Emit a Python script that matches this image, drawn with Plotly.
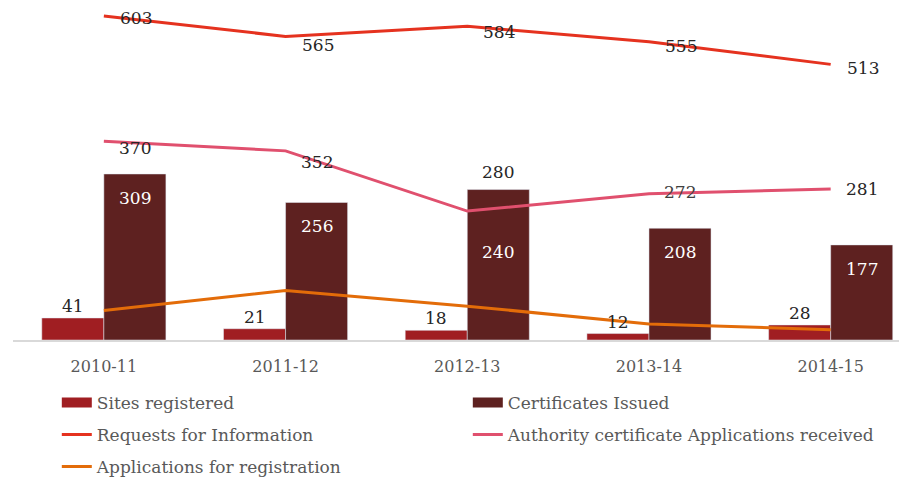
import plotly.graph_objects as go

years = ["2010-11", "2011-12", "2012-13", "2013-14", "2014-15"]
sites_registered = [41, 21, 18, 12, 28]
certificates_issued = [309, 256, 280, 208, 177]
requests_info = [603, 565, 584, 555, 513]
authority_apps = [370, 352, 240, 272, 281]
applications_reg = [55, 92, 63, 30, 19]

FONT = "DejaVu Serif"
C_SITES = "#A01E22"
C_CERT = "#5E2120"
C_REQ = "#E5321F"
C_AUTH = "#E0506E"
C_APPS = "#E36C09"

fig = go.Figure()
fig.add_trace(go.Bar(x=years, y=sites_registered, name="Sites registered",
                     marker_color=C_SITES, showlegend=False))
fig.add_trace(go.Bar(x=years, y=certificates_issued, name="Certificates Issued",
                     marker_color=C_CERT, showlegend=False))
# legend entries for the bars drawn as wide rectangles
fig.add_trace(go.Scatter(x=[None], y=[None], name="Sites registered", mode="lines",
                         line=dict(color=C_SITES, width=10), legend="legend"))
fig.add_trace(go.Scatter(x=[None], y=[None], name="Certificates Issued", mode="lines",
                         line=dict(color=C_CERT, width=10), legend="legend"))
fig.add_trace(go.Scatter(x=years, y=requests_info, name="Requests for Information",
                         mode="lines", line=dict(color=C_REQ, width=3), legend="legend2",
                         cliponaxis=False))
fig.add_trace(go.Scatter(x=years, y=authority_apps,
                         name="Authority certificate Applications received",
                         mode="lines", line=dict(color=C_AUTH, width=3), legend="legend2"))
fig.add_trace(go.Scatter(x=years, y=applications_reg, name="Applications for registration",
                         mode="lines", line=dict(color=C_APPS, width=3), legend="legend3"))

ann = []
lbl_font = dict(family=FONT, size=17, color="#262626")
# Sites registered: above bars (left bar of group)
for x, v in zip(years, sites_registered):
    ann.append(dict(x=x, y=v, text=str(v), showarrow=False, xshift=-31, yshift=12,
                    yanchor="middle", font=lbl_font))
# Certificates issued: inside end, except one outside
cert_inside = [True, True, False, True, True]
for x, v, inside in zip(years, certificates_issued, cert_inside):
    ann.append(dict(x=x, y=v, text=str(v), showarrow=False, xshift=31,
                    yshift=-24 if inside else 18, yanchor="middle",
                    font=dict(family=FONT, size=17, color="white" if inside else "#262626")))
# Requests for information: to the right
req_dy = [-2, -9, -6, -4, -4]
for x, v, dy in zip(years, requests_info, req_dy):
    ann.append(dict(x=x, y=v, text=str(v), showarrow=False, xshift=14, yshift=dy,
                    xanchor="left", yanchor="middle", font=lbl_font))
# Authority applications
auth_dy = [-7, -11, -41, 2, 0]
auth_col = ["#262626", "#262626", "white", "#404040", "#262626"]
for x, v, dy, c in zip(years, authority_apps, auth_dy, auth_col):
    ann.append(dict(x=x, y=v, text=str(v), showarrow=False, xshift=13, yshift=dy,
                    xanchor="left", yanchor="middle",
                    font=dict(family=FONT, size=17, color=c)))

PLOT_H = 332
leg_common = dict(orientation="h", x=0.049, xanchor="left", yanchor="middle",
                  entrywidth=366, entrywidthmode="pixels",
                  font=dict(family=FONT, size=17, color="#595959"),
                  bgcolor="rgba(0,0,0,0)", itemclick=False, itemdoubleclick=False)

fig.update_layout(
    width=899, height=471,
    margin=dict(l=5, r=0, t=0, b=139, autoexpand=False),
    paper_bgcolor="white", plot_bgcolor="white",
    barmode="group", bargap=0.317, bargroupgap=0,
    showlegend=True,
    legend=dict(leg_common, y=-63 / PLOT_H),
    legend2=dict(leg_common, y=-95 / PLOT_H),
    legend3=dict(leg_common, y=-127 / PLOT_H),
    annotations=ann,
    xaxis=dict(type="category", range=[-0.5, 4.42], showline=True, linecolor="#D9D9D9",
               linewidth=1.5, ticks="", showgrid=False, zeroline=False,
               ticklabelstandoff=11,
               tickfont=dict(family=FONT, size=16, color="#595959")),
    yaxis=dict(range=[0, PLOT_H / 0.5373], visible=False, showgrid=False, zeroline=False),
)

fig.write_html("out.html")
